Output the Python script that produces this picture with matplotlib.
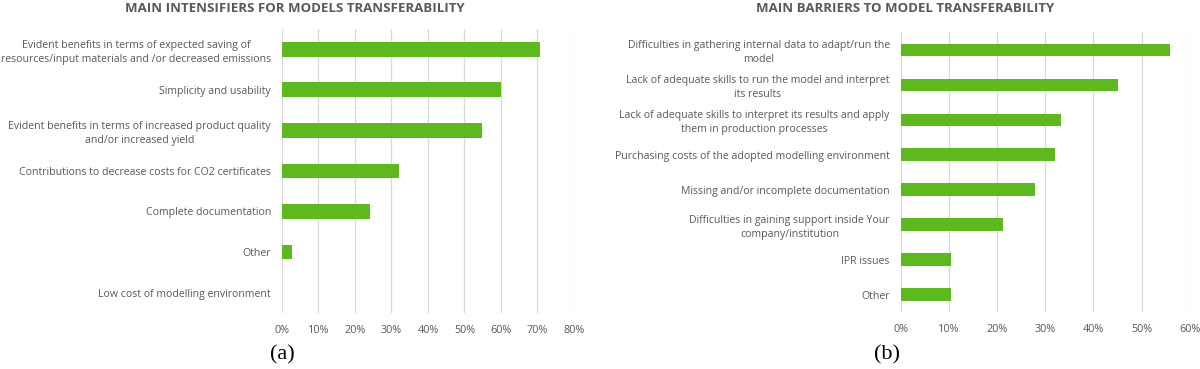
import matplotlib
matplotlib.use("Agg")
from matplotlib import pyplot as plt
from matplotlib.ticker import FuncFormatter
import numpy as np

# left panel (a)
intens_labels = [
    "Evident benefits in terms of expected saving of\nresources/input materials and /or decreased emissions",
    "Simplicity and usability",
    "Evident benefits in terms of increased product quality\nand/or increased yield",
    "Contributions to decrease costs for CO2 certificates",
    "Complete documentation",
    "Other",
    "Low cost of modelling environment",
]
intens_values = [70.7, 60.0, 54.7, 32.0, 24.0, 2.7, 0.0]
intens_ticks = [0, 10, 20, 30, 40, 50, 60, 70, 80]

# right panel (b)
barrier_labels = [
    "Difficulties in gathering internal data to adapt/run the\nmodel",
    "Lack of adequate skills to run the model and interpret\nits results",
    "Lack of adequate skills to interpret its results and apply\nthem in production processes",
    "Purchasing costs of the adopted modelling environment",
    "Missing and/or incomplete documentation",
    "Difficulties in gaining support inside Your\ncompany/institution",
    "IPR issues",
    "Other",
]
barrier_values = [56.0, 45.2, 33.3, 32.0, 27.9, 21.2, 10.5, 10.5]
barrier_ticks = [0, 10, 20, 30, 40, 50, 60]

green = "#5eb91e"
grey_txt = "#595959"
grid_col = "#d9d9d9"

plt.rcParams['font.family'] = ['Open Sans', 'DejaVu Sans']

fig = plt.figure(figsize=(12, 3.69), dpi=100)


def panel(rect, labels, values, ticks, height):
    ax = fig.add_axes(rect)
    y = np.arange(len(labels))
    ax.barh(y, values, height=height, color=green, zorder=3)
    ax.set_yticks(y)
    ax.set_yticklabels(labels, fontsize=7.6, color=grey_txt, ha="right",
                       multialignment="center", linespacing=1.35)
    ax.set_ylim(len(labels) - 0.5, -0.5)
    ax.set_xlim(ticks[0], ticks[-1])
    ax.set_xticks(ticks)
    ax.xaxis.set_major_formatter(FuncFormatter(lambda v, p: "%d%%" % v))
    ax.tick_params(axis="x", colors=grey_txt, labelsize=7.8, length=0, pad=9)
    ax.tick_params(axis="y", length=0, pad=8)
    ax.grid(axis="x", color=grid_col, linewidth=0.9, zorder=0)
    for s in ax.spines.values():
        s.set_visible(False)
    return ax


ax1 = panel([0.235, 0.152, 0.2433, 0.7696], intens_labels, intens_values,
            intens_ticks, 0.36)
ax2 = panel([0.7507, 0.1545, 0.2407, 0.7575], barrier_labels, barrier_values,
            barrier_ticks, 0.36)

fig.text(0.246, 0.978, "MAIN INTENSIFIERS FOR MODELS TRANSFERABILITY",
         ha="center", va="center", fontsize=9.5, fontweight="bold", color=grey_txt)
fig.text(0.754, 0.978, "MAIN BARRIERS TO MODEL TRANSFERABILITY",
         ha="center", va="center", fontsize=9.5, fontweight="bold", color=grey_txt)

fig.text(0.235, 0.038, "(a)", ha="center", va="center", fontsize=16,
         family="Liberation Serif")
fig.text(0.739, 0.038, "(b)", ha="center", va="center", fontsize=16,
         family="Liberation Serif")

plt.savefig("out.png", dpi=100, facecolor="white")
